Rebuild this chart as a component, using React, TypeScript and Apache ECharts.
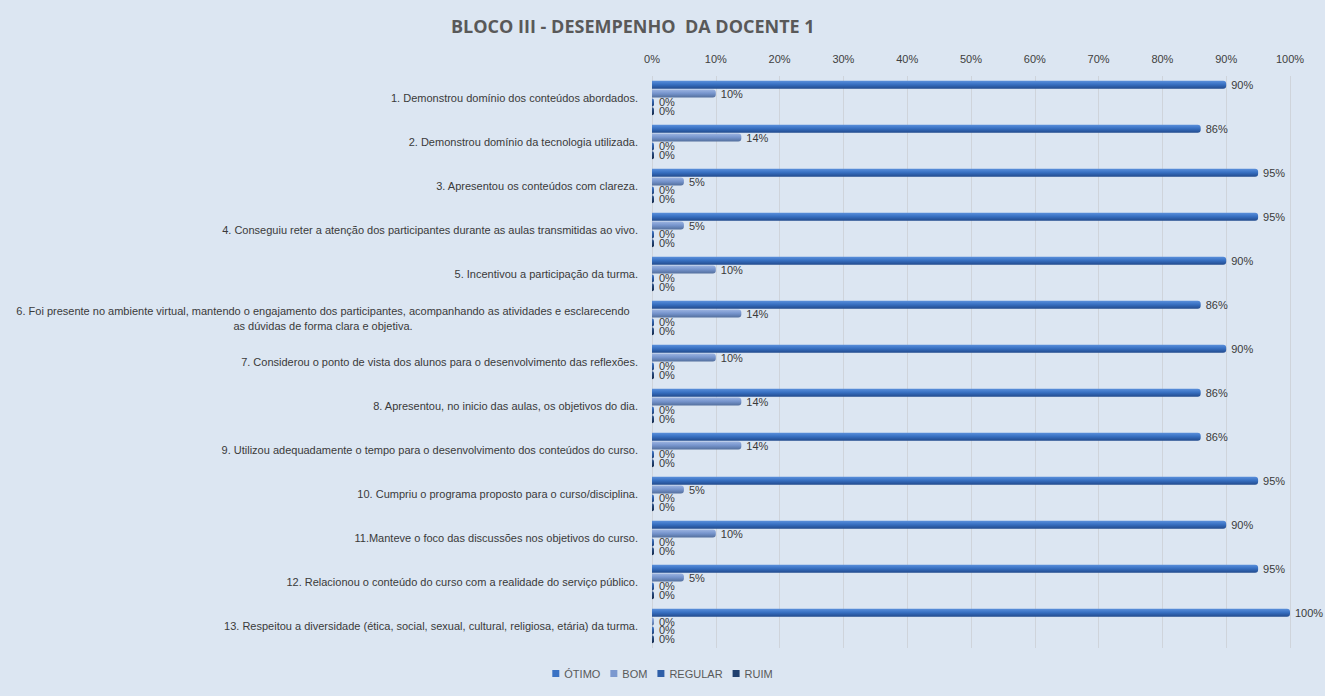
import React, { useEffect, useRef } from "react";
import * as echarts from "echarts";

const categories = [
  "1. Demonstrou domínio dos conteúdos abordados.",
  "2. Demonstrou domínio da tecnologia utilizada.",
  "3. Apresentou os conteúdos com clareza.",
  "4. Conseguiu reter a atenção dos participantes durante as aulas transmitidas ao vivo.",
  "5. Incentivou a participação da turma.",
  "6. Foi presente no ambiente virtual, mantendo o engajamento dos participantes, acompanhando as atividades e esclarecendo\nas dúvidas de forma clara e objetiva.",
  "7. Considerou o ponto de vista dos alunos para o desenvolvimento das reflexões.",
  "8. Apresentou, no inicio das aulas, os objetivos do dia.",
  "9. Utilizou adequadamente o tempo para o desenvolvimento dos conteúdos do curso.",
  "10. Cumpriu o programa proposto para o curso/disciplina.",
  "11.Manteve o foco das discussões nos objetivos do curso.",
  "12. Relacionou o conteúdo do curso com a realidade do serviço público.",
  "13. Respeitou a diversidade (ética, social, sexual, cultural, religiosa, etária) da turma.",
];

const seriesNames = ["ÓTIMO", "BOM", "REGULAR", "RUIM"];
const otimo = [90, 86, 95, 95, 90, 86, 90, 86, 86, 95, 90, 95, 100];
const bom = [10, 14, 5, 5, 10, 14, 10, 14, 14, 5, 10, 5, 0];
const regular = [0, 0, 0, 0, 0, 0, 0, 0, 0, 0, 0, 0, 0];
const ruim = [0, 0, 0, 0, 0, 0, 0, 0, 0, 0, 0, 0, 0];
const xTicks = { min: 0, max: 100, interval: 10 };

const FONT = "'Liberation Sans Narrow', 'Liberation Sans', sans-serif";

function grad(top: string, mid: string, bottom: string) {
  return new echarts.graphic.LinearGradient(0, 0, 0, 1, [
    { offset: 0, color: top },
    { offset: 0.45, color: mid },
    { offset: 1, color: bottom },
  ]);
}

export default function App() {
  const ref = useRef<HTMLDivElement>(null);
  useEffect(() => {
    document.body.style.margin = "0";
    const chart = echarts.init(ref.current!, null, { renderer: "svg" });
    const colors = [
      grad("#5a8fdb", "#3870c2", "#214a8c"),
      grad("#9bb3e0", "#7896ce", "#526e9c"),
      grad("#4a7cc8", "#2f5fa8", "#1d3f76"),
      grad("#3a5f99", "#20406f", "#13284a"),
    ];
    const flat = ["#3a72c4", "#7b98cf", "#2f5fa8", "#20406f"];
    const datas = [otimo, bom, regular, ruim];
    const yData = categories.map((c, i) =>
      i === 5
        ? {
            value: c,
            textStyle: {
              align: "center",
              padding: [0, 630, 0, 0],
              lineHeight: 15,
            },
          }
        : c
    );
    chart.setOption({
      animation: false,
      backgroundColor: "#dce6f2",
      color: flat,
      title: {
        text: "BLOCO III - DESEMPENHO  DA DOCENTE 1",
        left: 446,
        top: 12,
        textStyle: {
          fontFamily: "'Open Sans', sans-serif",
          fontWeight: "bold",
          fontSize: 18,
          color: "#595959",
        },
      },
      legend: {
        bottom: 12,
        left: "center",
        icon: "rect",
        itemWidth: 7,
        itemHeight: 7,
        itemGap: 10,
        data: seriesNames.map((n, i) => ({ name: n, itemStyle: { color: flat[i] } })),
        textStyle: { fontFamily: FONT, fontSize: 11, color: "#595959" },
      },
      grid: { left: 652, right: 35, top: 76, bottom: 48, containLabel: false },
      xAxis: {
        type: "value",
        position: "top",
        min: xTicks.min,
        max: xTicks.max,
        interval: xTicks.interval,
        axisLine: { show: false },
        axisTick: { show: false },
        axisLabel: {
          formatter: "{value}%",
          fontFamily: FONT,
          fontSize: 11,
          color: "#404040",
          margin: 12,
        },
        splitLine: { show: true, lineStyle: { color: "#cfd4db", width: 1 } },
      },
      yAxis: {
        type: "category",
        inverse: true,
        data: yData,
        axisLine: { show: false },
        axisTick: { show: false },
        axisLabel: {
          fontFamily: FONT,
          fontSize: 11,
          color: "#3a3a3a",
          margin: 14,
          interval: 0,
        },
      },
      series: seriesNames.map((n, i) => ({
        name: n,
        type: "bar",
        data: datas[i],
        barWidth: 8,
        barGap: "10%",
        barMinHeight: 2,
        itemStyle: { color: colors[i], borderRadius: [0, 3, 3, 0] },
        label: {
          show: true,
          position: "right",
          distance: 5,
          formatter: "{c}%",
          fontFamily: FONT,
          fontSize: 11,
          color: "#3a3a3a",
        },
      })),
    });
    return () => chart.dispose();
  }, []);
  return <div ref={ref} style={{ width: 1325, height: 696 }} />;
}
